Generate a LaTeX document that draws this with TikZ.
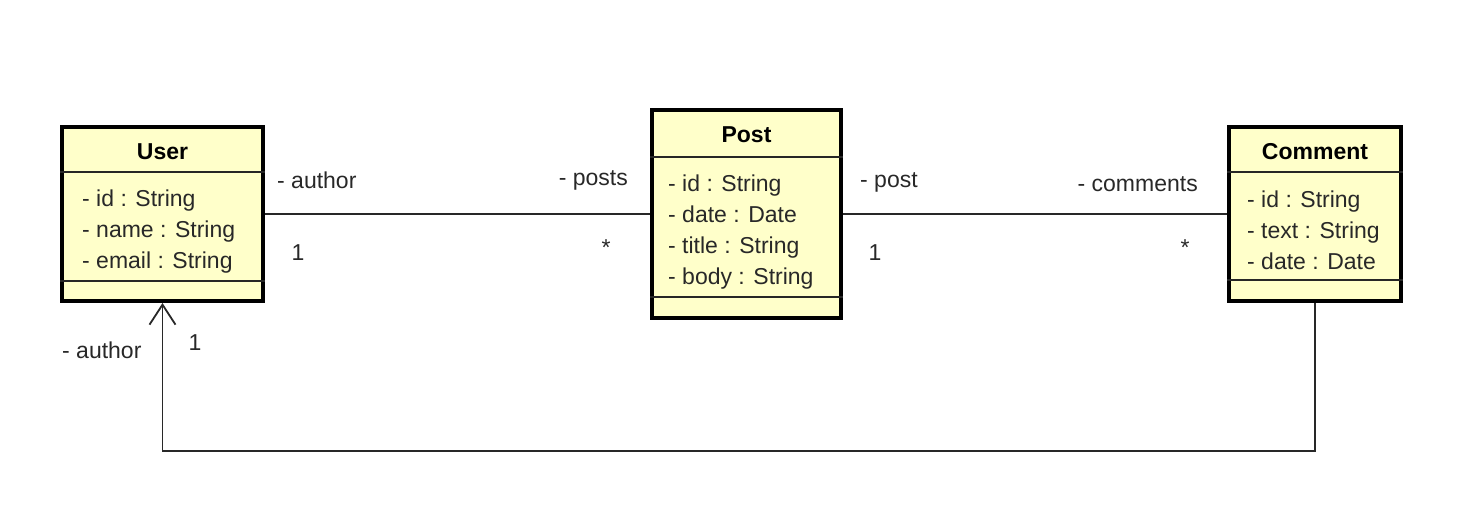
\documentclass[tikz,border=0pt]{standalone}
\usepackage{fontspec}
\setmainfont{Liberation Sans}
\usepackage{xcolor}
\usepackage{tikz}
\usetikzlibrary{positioning,arrows.meta}

\definecolor{classfill}{RGB}{255,255,202}
\definecolor{inkgray}{RGB}{40,40,40}

\begin{document}
\begin{tikzpicture}[x=1pt, y=-1pt,
  classbox/.style={draw=black, line width=4pt, fill=classfill, inner sep=0pt},
  sepline/.style={draw=black!85, line width=1.6pt},
  assoc/.style={draw=inkgray, line width=1.8pt},
  title/.style={font=\fontsize{23}{28}\selectfont\bfseries, text=black},
  attrs/.style={font=\fontsize{23}{31}\selectfont, text=inkgray, align=left, inner sep=0pt, anchor=west},
  role/.style={font=\fontsize{23}{28}\selectfont, text=inkgray, inner sep=0pt}]
\useasboundingbox (0,0) rectangle (1462,525);

% classes
\node[classbox, minimum width=201pt, minimum height=174pt] (user) at (162.5,214) {};
\node[classbox, minimum width=189pt, minimum height=208pt] (post) at (746.5,214) {};
\node[classbox, minimum width=172pt, minimum height=174pt] (comment) at (1315,214) {};

\draw[sepline] (user.west |- 0,172) -- (user.east |- 0,172);
\draw[sepline] (user.west |- 0,281) -- (user.east |- 0,281);
\draw[sepline] (post.west |- 0,157) -- (post.east |- 0,157);
\draw[sepline] (post.west |- 0,297) -- (post.east |- 0,297);
\draw[sepline] (comment.west |- 0,172) -- (comment.east |- 0,172);
\draw[sepline] (comment.west |- 0,280) -- (comment.east |- 0,280);

\node[title] (usertitle) at (162.5,152) {User};
\node[title] (posttitle) at (746.5,135) {Post};
\node[title] (commenttitle) at (1315,152) {Comment};

\node[attrs] (userattrs) at (82,232) {- id : String\\- name : String\\- email : String};
\node[attrs] (postattrs) at (668,232) {- id : String\\- date : Date\\- title : String\\- body : String};
\node[attrs] (commentattrs) at (1247,230) {- id : String\\- text : String\\- date : Date};

% associations
\coordinate (turn) at (1315,451);
\draw[assoc] (user) -- (post);
\draw[assoc] (post) -- (comment);
\draw[assoc, -{Straight Barb[length=20pt, width=26pt, line width=1.8pt]}] (comment.south) -- (turn) -| (user.south);

% roles and multiplicities
\node[role, anchor=west] (userrole) at (277,180) {- author};
\node[role] (usermult) at (298,253) {1};
\node[role, anchor=east] (postsrole) at (628,180) {- posts};
\node[role] (postsmult) at (606,248) {*};
\node[role, anchor=west] (postrole) at (860,182) {- post};
\node[role] (postmult) at (875,253) {1};
\node[role, anchor=east] (commentsrole) at (1198,184) {- comments};
\node[role] (commentsmult) at (1185,248) {*};
\node[role, anchor=west] (authorrole) at (62,350) {- author};
\node[role] (authormult) at (195,343) {1};
\end{tikzpicture}
\end{document}
